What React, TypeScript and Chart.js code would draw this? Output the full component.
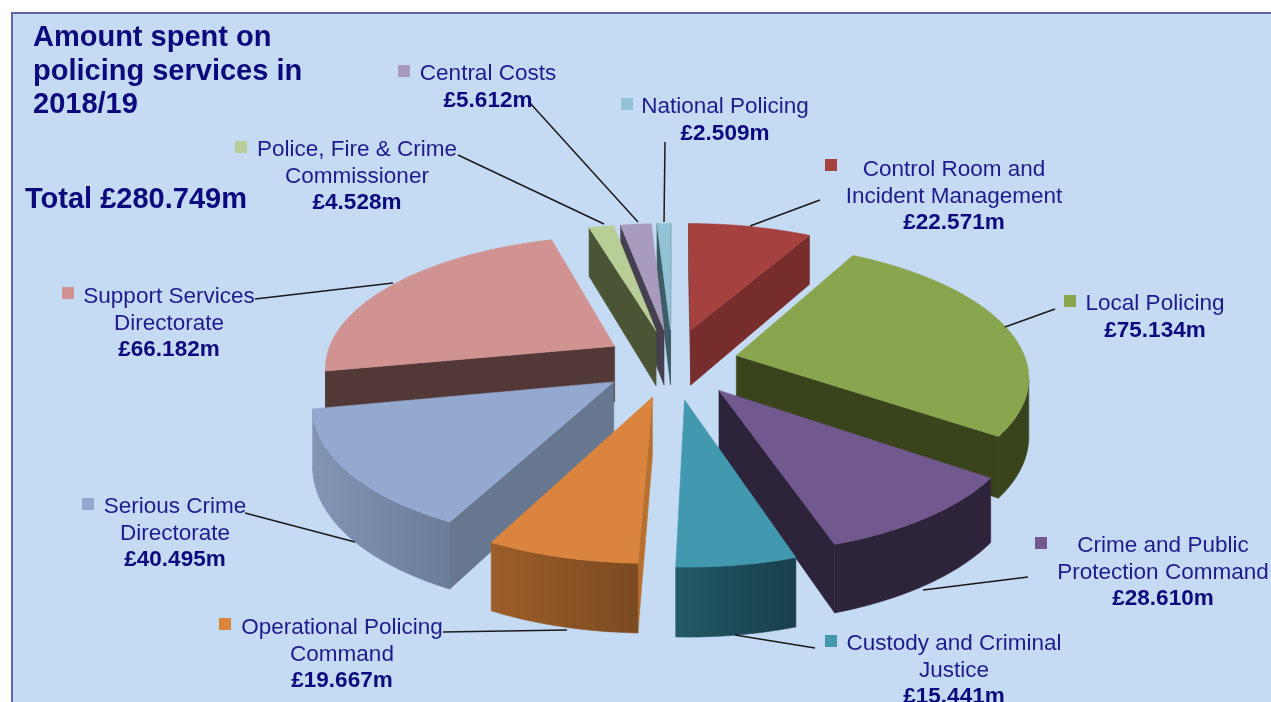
import React, { useEffect, useRef } from "react";
import { Chart, registerables } from "chart.js";

Chart.register(...registerables);

const categories = [
  "Control Room and Incident Management",
  "Local Policing",
  "Crime and Public Protection Command",
  "Custody and Criminal Justice",
  "Operational Policing Command",
  "Serious Crime Directorate",
  "Support Services Directorate",
  "Police, Fire & Crime Commissioner",
  "Central Costs",
  "National Policing",
];
const spend = [22.571, 75.134, 28.61, 15.441, 19.667, 40.495, 66.182, 4.528, 5.612, 2.509];
const labelLines = [
  ["Control Room and", "Incident Management"],
  ["Local Policing"],
  ["Crime and Public", "Protection Command"],
  ["Custody and Criminal", "Justice"],
  ["Operational Policing", "Command"],
  ["Serious Crime", "Directorate"],
  ["Support Services", "Directorate"],
  ["Police, Fire & Crime", "Commissioner"],
  ["Central Costs"],
  ["National Policing"],
];
const topColors = ["#A5423F", "#89A54E", "#71588F", "#4198AF", "#DB843D", "#93A9CF", "#D19392", "#B9CD96", "#A99BBD", "#92C3D4"];
const faceColors = ["#762D2B", "#3A441C", "#2D233A", "#235966", "#B8702F", "#66778F", "#533838", "#4B5535", "#44404F", "#3E5C66"];
const wallStart = ["#762D2B", "#3A441C", "#2D233A", "#183F4C", "#7B4A20", "#6B7C98", "#533838", "#4B5535", "#44404F", "#3E5C66"];
const wallEnd = ["#762D2B", "#3A441C", "#2D233A", "#235966", "#9C5E2A", "#8395B5", "#533838", "#4B5535", "#44404F", "#3E5C66"];
const explode = [76, 66, 76, 82, 78, 72, 69, 74, 74, 74];

// text layout: [centre x, first baseline y, square x, square y]
const labelPos = [
  [954, 176, 831, 165],
  [1155, 310, 1070, 301],
  [1163, 552, 1041, 543],
  [954, 650, 831, 641],
  [342, 634, 225, 624],
  [175, 513, 88, 504],
  [169, 303, 68, 293],
  [357, 156, 241, 147],
  [488, 80, 404, 71],
  [725, 113, 627, 104],
];
const leaderLines = [
  [820, 200, 750, 226],
  [1055, 309, 1005, 327],
  [1028, 577, 923, 590],
  [815, 648, 735, 635],
  [443, 632, 567, 630],
  [245, 513, 355, 542],
  [255, 299, 393, 283],
  [458, 155, 604, 224],
  [530, 103, 638, 222],
  [665, 142, 664, 222],
];
const titleLines = ["Amount spent on", "policing services in", "2018/19"];
const totalText = "Total £280.749m";

const TILT = 0.45;
const VIEW = 2000;
const DEPTH = 57;
const NAVY = "#0A0A7D";
const LABEL = "#1C1C8C";
const FONT = '"Liberation Sans", Arial, sans-serif';

type P = [number, number];

const pie3d = {
  id: "pie3d",
  beforeDatasetDraw(chart: any) {
    const ctx: CanvasRenderingContext2D = chart.ctx;
    const arcs = chart.getDatasetMeta(0).data;
    const project = (cx: number, cy: number, wx: number, wy: number, h: number): P => {
      const s = 1 / (1 - wy / VIEW);
      return [cx + wx * s, cy + (wy * TILT + h) * s];
    };
    const fill = (pts: P[], color: string | CanvasGradient) => {
      ctx.beginPath();
      pts.forEach((p, i) => (i ? ctx.lineTo(p[0], p[1]) : ctx.moveTo(p[0], p[1])));
      ctx.closePath();
      ctx.fillStyle = color;
      ctx.strokeStyle = color;
      ctx.lineWidth = 0.6;
      ctx.fill();
      ctx.stroke();
    };
    const items = arcs.map((arc: any, i: number) => {
      const mid = (arc.startAngle + arc.endAngle) / 2;
      const off = arc.options.offset || 0;
      const ox = Math.cos(mid) * off;
      const oy = Math.sin(mid) * off;
      const order = oy + Math.sin(mid) * arc.outerRadius * 0.6;
      return { arc, i, ox, oy, order, mid };
    });
    items.sort((a: any, b: any) => a.order - b.order);
    ctx.save();
    for (const { arc, i, ox, oy, mid } of items) {
      const R = arc.outerRadius;
      const cx = arc.x;
      const cy = arc.y;
      const steps = Math.max(4, Math.ceil(((arc.endAngle - arc.startAngle) * 180) / Math.PI));
      const topRim: P[] = [];
      const lowRim: P[] = [];
      for (let k = 0; k <= steps; k++) {
        const a = arc.startAngle + ((arc.endAngle - arc.startAngle) * k) / steps;
        const wx = ox + Math.cos(a) * R;
        const wy = oy + Math.sin(a) * R;
        topRim.push(project(cx, cy, wx, wy, 0));
        lowRim.push(project(cx, cy, wx, wy, DEPTH));
      }
      const apexTop = project(cx, cy, ox, oy, 0);
      const apexLow = project(cx, cy, ox, oy, DEPTH);
      const midTop = project(cx, cy, ox + Math.cos(mid) * R, oy + Math.sin(mid) * R, 0);
      const faceVisible = (e: P) => {
        let nx = -(e[1] - apexTop[1]);
        let ny = e[0] - apexTop[0];
        if (nx * (midTop[0] - apexTop[0]) + ny * (midTop[1] - apexTop[1]) > 0) {
          nx = -nx;
          ny = -ny;
        }
        return ny > 0;
      };
      const startEdge = 0;
      const endEdge = steps;
      if (faceVisible(topRim[startEdge])) {
        fill([apexTop, topRim[startEdge], lowRim[startEdge], apexLow], faceColors[i]);
      }
      if (faceVisible(topRim[endEdge])) {
        fill([apexTop, topRim[endEdge], lowRim[endEdge], apexLow], faceColors[i]);
      }
      // Outer wall: only the rim segments turned toward the viewer.
      let first = -1;
      let last = -1;
      for (let k = 0; k < steps; k++) {
        if (topRim[k + 1][0] < topRim[k][0]) {
          if (first < 0) first = k;
          last = k + 1;
        }
      }
      if (first >= 0) {
        const top = topRim.slice(first, last + 1);
        const low = lowRim.slice(first, last + 1).reverse();
        const g = ctx.createLinearGradient(top[top.length - 1][0], 0, top[0][0], 0);
        g.addColorStop(0, wallEnd[i]);
        g.addColorStop(1, wallStart[i]);
        fill([...top, ...low], g);
      }
      fill([apexTop, ...topRim], topColors[i]);
    }
    ctx.restore();
    return false;
  },
  afterDraw(chart: any) {
    const ctx: CanvasRenderingContext2D = chart.ctx;
    ctx.save();
    ctx.textBaseline = "alphabetic";
    ctx.strokeStyle = "#1A1A1A";
    ctx.lineWidth = 1.5;
    leaderLines.forEach((l) => {
      ctx.beginPath();
      ctx.moveTo(l[0], l[1]);
      ctx.lineTo(l[2], l[3]);
      ctx.stroke();
    });
    ctx.fillStyle = NAVY;
    ctx.textAlign = "left";
    ctx.font = `bold 29px ${FONT}`;
    titleLines.forEach((t, i) => ctx.fillText(t, 33, 46 + i * 33.5));
    ctx.fillText(totalText, 25, 208);
    ctx.textAlign = "center";
    categories.forEach((_, i) => {
      const [tx, ty, sx, sy] = labelPos[i];
      ctx.fillStyle = topColors[i];
      ctx.fillRect(sx - 6, sy - 6, 12, 12);
      ctx.fillStyle = LABEL;
      ctx.font = `22.5px ${FONT}`;
      const lines = labelLines[i];
      lines.forEach((t, k) => ctx.fillText(t, tx, ty + k * 26.5));
      ctx.fillStyle = NAVY;
      ctx.font = `bold 22.5px ${FONT}`;
      ctx.fillText(`£${spend[i].toFixed(3)}m`, tx, ty + lines.length * 26.5);
    });
    ctx.restore();
  },
};

export default function App() {
  const ref = useRef<HTMLCanvasElement>(null);
  useEffect(() => {
    document.body.style.margin = "0";
    document.body.style.overflow = "hidden";
    const chart = new Chart(ref.current as HTMLCanvasElement, {
      type: "pie",
      data: {
        labels: categories,
        datasets: [{ data: spend, backgroundColor: topColors, offset: explode, borderWidth: 0 }],
      },
      options: {
        animation: false,
        responsive: false,
        events: [],
        radius: 290,
        rotation: 0,
        layout: { padding: { left: 74, top: 22 } },
        plugins: { legend: { display: false }, tooltip: { enabled: false } },
      },
      plugins: [pie3d],
    } as any);
    return () => chart.destroy();
  }, []);
  return (
    <div style={{ position: "absolute", left: 0, top: 0, width: 1271, height: 702, background: "#fff", overflow: "hidden" }}>
      <div
        style={{
          position: "absolute",
          left: 11,
          top: 12,
          width: 1300,
          height: 720,
          background: "#C5DAF3",
          border: "2px solid #5F64A8",
          boxSizing: "border-box",
        }}
      />
      <canvas ref={ref} width={1271} height={702} style={{ position: "absolute", left: 0, top: 0 }} />
    </div>
  );
}
